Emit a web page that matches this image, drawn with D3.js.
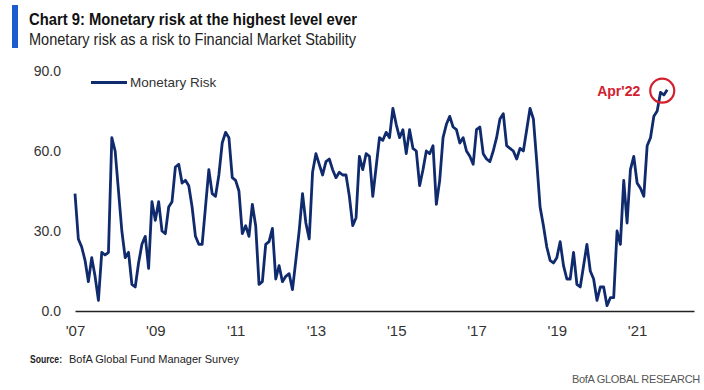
<!DOCTYPE html>
<html>
<head>
<meta charset="utf-8">
<script src="https://cdn.jsdelivr.net/npm/d3@7"></script>
<style>
  html, body { margin: 0; padding: 0; background: #fff; }
  svg { display: block; font-family: "Liberation Sans", Arial, sans-serif; }
</style>
</head>
<body>
<div id="chart"></div>
<script>
// monthly readings, '07 onwards
const riskValues = [
  44, 27, 24, 19, 11, 20, 13, 4, 22, 21, 22, 65, 60, 45, 30, 20, 22, 10, 9, 18,
  25, 28, 16, 41, 34, 41, 30, 29, 39, 41, 54, 55, 48, 49, 47, 39, 28, 25, 25, 39,
  53, 44, 43, 51, 63, 67, 65, 50, 49, 45, 29, 32, 28, 40, 32, 10, 11, 25, 26, 31,
  12, 17, 11, 13, 14, 8, 19, 30, 44, 33, 27, 52, 59, 55, 51, 56, 57, 53, 50, 52,
  51, 51, 43, 32, 35, 58, 53, 59, 58, 43, 54, 65, 64, 67, 65, 76, 70, 65, 68, 59,
  68, 61, 60, 47, 53, 60, 59, 62, 40, 49, 65, 70, 73, 69, 68, 63, 65, 60, 58, 55,
  68, 69, 59, 57, 56, 60, 65, 72, 74, 62, 61, 60, 57, 61, 60, 68, 76, 72, 56, 39,
  32, 24, 19, 18, 20, 26, 17, 12, 12, 22, 10, 9, 17, 25, 15, 12, 4, 9, 9, 2,
  5, 5, 30, 25, 49, 33, 53, 58, 48, 46, 43, 62, 65, 73, 75, 82, 81, 83
];
const xTickIndex = [0, 24, 48, 72, 96, 120, 144, 168];
const xTickLabels = ["'07", "'09", "'11", "'13", "'15", "'17", "'19", "'21"];
const yTicks = [0, 30, 60, 90];
const seriesName = 'Monetary Risk';
const lastLabel = "Apr'22";

const width = 704;
const height = 390;
const navy = '#102a6e';
const red = '#d3202f';

const svg = d3.select('#chart').append('svg').attr('width', width).attr('height', height);

const x = d3.scaleLinear().domain([0, 185]).range([75, 694]);
const y = d3.scaleLinear().domain([0, 90]).range([311, 71]);

// header
svg.append('rect').attr('x', 12).attr('y', 5).attr('width', 6).attr('height', 43).attr('fill', '#1d5bd1');
svg.append('text').attr('x', 29).attr('y', 25)
  .attr('font-size', 17).attr('font-weight', 'bold').attr('fill', '#111')
  .attr('textLength', 328).attr('lengthAdjust', 'spacingAndGlyphs')
  .text('Chart 9: Monetary risk at the highest level ever');
svg.append('text').attr('x', 29).attr('y', 45)
  .attr('font-size', 16.5).attr('fill', '#222')
  .attr('textLength', 327).attr('lengthAdjust', 'spacingAndGlyphs')
  .text('Monetary risk as a risk to Financial Market Stability');

// y axis labels
const yAxis = svg.append('g').attr('transform', 'translate(61,0)')
  .call(d3.axisLeft(y).tickValues(yTicks).tickSize(0).tickPadding(0).tickFormat(d3.format('.1f')));
yAxis.select('.domain').remove();
yAxis.selectAll('text').attr('font-size', 14).attr('fill', '#333').attr('font-family', null);

// x axis
const xAxis = svg.append('g').attr('transform', 'translate(0,' + y(0) + ')')
  .call(d3.axisBottom(x).tickValues(xTickIndex).tickSize(0).tickPadding(14)
    .tickFormat((d, i) => xTickLabels[i]));
xAxis.select('.domain').attr('stroke', '#222').attr('stroke-width', 1.5);
xAxis.selectAll('text').attr('font-size', 15).attr('fill', '#333').attr('font-family', null);

// line
const line = d3.line().x((d, i) => x(i)).y((d) => y(d));
svg.append('path').datum(riskValues)
  .attr('d', line)
  .attr('fill', 'none')
  .attr('stroke', navy)
  .attr('stroke-width', 2.8)
  .attr('stroke-linejoin', 'round');

// legend
svg.append('line').attr('x1', 91).attr('x2', 127).attr('y1', 82.5).attr('y2', 82.5)
  .attr('stroke', navy).attr('stroke-width', 3);
svg.append('text').attr('x', 130).attr('y', 87).attr('font-size', 13.5).attr('fill', '#333').text(seriesName);

// annotation on last point
const lastIndex = riskValues.length - 1;
const cx = x(lastIndex) - 5;
const cy = y(riskValues[lastIndex]) + 1;
svg.append('circle').attr('cx', cx).attr('cy', cy).attr('r', 12)
  .attr('fill', 'none').attr('stroke', red).attr('stroke-width', 2.2);
svg.append('text').attr('x', cx - 22).attr('y', cy + 5)
  .attr('text-anchor', 'end').attr('font-size', 14).attr('font-weight', 'bold').attr('fill', red)
  .text(lastLabel);

// footer
svg.append('text').attr('x', 30).attr('y', 363).attr('font-size', 11.5).attr('font-weight', 'bold')
  .attr('fill', '#222').attr('textLength', 32).attr('lengthAdjust', 'spacingAndGlyphs').text('Source:');
svg.append('text').attr('x', 69).attr('y', 363).attr('font-size', 11.5)
  .attr('fill', '#222').attr('textLength', 170).attr('lengthAdjust', 'spacingAndGlyphs')
  .text('BofA Global Fund Manager Survey');
svg.append('text').attr('x', 700).attr('y', 383).attr('text-anchor', 'end').attr('font-size', 11)
  .attr('letter-spacing', -0.3).attr('fill', '#555')
  .text('BofA GLOBAL RESEARCH');
</script>
</body>
</html>
